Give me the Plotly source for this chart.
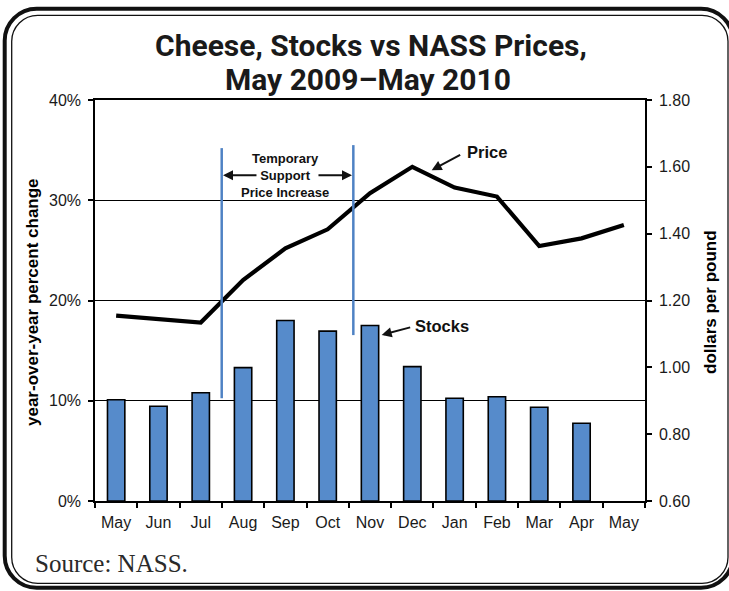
import plotly.graph_objects as go

# ---------------- data ----------------
months = ["May", "Jun", "Jul", "Aug", "Sep", "Oct", "Nov", "Dec", "Jan", "Feb", "Mar", "Apr", "May"]
years = [2009, 2009, 2009, 2009, 2009, 2009, 2009, 2009, 2010, 2010, 2010, 2010, 2010]
stocks_pct = [10.1, 9.45, 10.8, 13.3, 18.0, 16.95, 17.5, 13.4, 10.25, 10.4, 9.35, 7.75, None]
price_usd = [1.155, 1.145, 1.134, 1.261, 1.356, 1.413, 1.521, 1.600, 1.538, 1.511, 1.363, 1.386, 1.426]
left_ticks = [0, 10, 20, 30, 40]
left_ticktext = ["0%", "10%", "20%", "30%", "40%"]
right_ticks = [0.6, 0.8, 1.0, 1.2, 1.4, 1.6, 1.8]

# support-price period markers (x in category index units, y in % of left axis)
support_start = dict(x=2.495, y0=10.25, y1=35.2)
support_end = dict(x=5.606, y0=16.55, y1=35.5)

x_ids = [f"{m} {y}" for m, y in zip(months, years)]

W, H = 729, 591
ML, MR, MT, MB = 95, 84, 100, 90
PW, PH = W - ML - MR, H - MT - MB

FONT = "Liberation Sans, Arial, sans-serif"
TITLE_FONT = "Roboto, Liberation Sans, Arial, sans-serif"
BLUE_BAR = "#568BCB"
BLUE_LINE = "#4F82C4"


def pp(x, y):
    return (x - ML) / PW, (H - MB - y) / PH


def rrect(x0, y0, x1, y1, r):
    k = 0.5523 * r

    def P(x, y):
        a, b = pp(x, y)
        return f"{a:.5f},{b:.5f}"

    d = f"M{P(x0 + r, y0)} L{P(x1 - r, y0)} "
    d += f"C{P(x1 - r + k, y0)} {P(x1, y0 + r - k)} {P(x1, y0 + r)} "
    d += f"L{P(x1, y1 - r)} "
    d += f"C{P(x1, y1 - r + k)} {P(x1 - r + k, y1)} {P(x1 - r, y1)} "
    d += f"L{P(x0 + r, y1)} "
    d += f"C{P(x0 + r - k, y1)} {P(x0, y1 - r + k)} {P(x0, y1 - r)} "
    d += f"L{P(x0, y0 + r)} "
    d += f"C{P(x0, y0 + r - k)} {P(x0 + r - k, y0)} {P(x0 + r, y0)} Z"
    return d


fig = go.Figure()
fig.add_trace(go.Bar(
    x=x_ids, y=stocks_pct, width=0.41,
    marker=dict(color=BLUE_BAR, line=dict(color="black", width=1.6)),
    yaxis="y", name="Stocks", showlegend=False,
))
fig.add_trace(go.Scatter(
    x=x_ids, y=price_usd, mode="lines",
    line=dict(color="black", width=4.2),
    yaxis="y2", name="Price", showlegend=False,
))

shapes = [
    dict(type="path", xref="paper", yref="paper", path=rrect(4.7, 8.7, 733, 587.8, 32),
         line=dict(color="#111", width=4), layer="above"),
    dict(type="path", xref="paper", yref="paper", path=rrect(11.7, 15.3, 728, 583.3, 26),
         line=dict(color="#111", width=1.3), layer="above"),
]
for s in (support_start, support_end):
    shapes.append(dict(type="line", xref="x", yref="y", x0=s["x"], x1=s["x"], y0=s["y0"], y1=s["y1"],
                       line=dict(color=BLUE_LINE, width=2.5), layer="above"))

annos = [
    dict(text="<b>Cheese, Stocks vs NASS Prices,</b>", xref="paper", yref="paper",
         x=pp(371, 0)[0], y=pp(0, 46)[1], showarrow=False, xanchor="center", yanchor="middle",
         font=dict(family=TITLE_FONT, size=30, color="#1a1a1a")),
    dict(text="<b>May 2009–May 2010</b>", xref="paper", yref="paper",
         x=pp(368, 0)[0], y=pp(0, 79)[1], showarrow=False, xanchor="center", yanchor="middle",
         font=dict(family=TITLE_FONT, size=30, color="#1a1a1a")),
    dict(text="<b>year-over-year percent change</b>", xref="paper", yref="paper",
         x=pp(32, 0)[0], y=pp(0, 302)[1], textangle=-90, showarrow=False,
         xanchor="center", yanchor="middle", font=dict(family=FONT, size=17, color="black")),
    dict(text="<b>dollars per pound</b>", xref="paper", yref="paper",
         x=pp(710, 0)[0], y=pp(0, 302)[1], textangle=-90, showarrow=False,
         xanchor="center", yanchor="middle", font=dict(family=FONT, size=17, color="black")),
    dict(text="Source: NASS.", xref="paper", yref="paper",
         x=pp(33, 0)[0], y=pp(0, 563)[1], showarrow=False, xanchor="left", yanchor="middle",
         font=dict(family="Liberation Serif, Times New Roman, serif", size=25, color="#2a2a2a")),
    # Temporary support price text
    dict(text="<b>Temporary<br>Support<br>Price Increase</b>", xref="x", yref="y",
         x=3.99, y=32.5, showarrow=False, xanchor="center", yanchor="middle",
         font=dict(family=FONT, size=13, color="#111")),
    dict(text="", xref="x", yref="y", x=2.525, y=32.5, ax=35, ay=0, showarrow=True,
         arrowhead=2, arrowsize=1, arrowwidth=2, arrowcolor="#111"),
    dict(text="", xref="x", yref="y", x=5.574, y=32.5, ax=-35, ay=0, showarrow=True,
         arrowhead=2, arrowsize=1, arrowwidth=2, arrowcolor="#111"),
    # Price label
    dict(text="<b>Price</b>", xref="x", yref="y", x=8.758, y=34.8, showarrow=False,
         xanchor="center", yanchor="middle", font=dict(family=FONT, size=16.5, color="#111")),
    dict(text="", xref="x", yref="y", x=7.458, y=33.0, ax=30, ay=-16, showarrow=True,
         arrowhead=2, arrowsize=1, arrowwidth=2, arrowcolor="#111"),
    # Stocks label
    dict(text="<b>Stocks</b>", xref="x", yref="y", x=7.694, y=17.49, showarrow=False,
         xanchor="center", yanchor="middle", font=dict(family=FONT, size=16.5, color="#111")),
    dict(text="", xref="x", yref="y", x=6.276, y=16.56, ax=30, ay=-8, showarrow=True,
         arrowhead=2, arrowsize=1, arrowwidth=2, arrowcolor="#111"),
]

fig.update_layout(
    width=W, height=H,
    margin=dict(l=ML, r=MR, t=MT, b=MB, pad=0),
    paper_bgcolor="white", plot_bgcolor="white",
    font=dict(family=FONT, size=16, color="#1a1a1a"),
    bargap=0.59,
    xaxis=dict(type="category", categoryorder="array", categoryarray=x_ids,
               tickmode="array", tickvals=x_ids, ticktext=months,
               ticks="outside", tickson="boundaries", ticklen=5, tickwidth=1.5, tickcolor="black",
               ticklabelstandoff=6,
               showline=True, linecolor="black", linewidth=1.5, mirror=True,
               showgrid=False, range=[-0.5, 12.5], fixedrange=True),
    yaxis=dict(range=[0, 40], tickmode="array", tickvals=left_ticks, ticktext=left_ticktext,
               ticks="outside", ticklen=5, tickwidth=1.5, tickcolor="black",
               ticklabelstandoff=4,
               showline=True, linecolor="black", linewidth=1.5,
               showgrid=True, gridcolor="black", gridwidth=1.2, zeroline=False),
    yaxis2=dict(range=[0.6, 1.8], tickmode="array", tickvals=right_ticks, tickformat=".2f",
                overlaying="y", side="right",
                ticks="outside", ticklen=5, tickwidth=1.5, tickcolor="black",
                ticklabelstandoff=4,
                showline=True, linecolor="black", linewidth=1.5,
                showgrid=False, zeroline=False),
    shapes=shapes,
    annotations=annos,
    showlegend=False,
)

fig.write_html(
    "out.html",
    config={"displayModeBar": False},
    post_script="document.body.style.margin='0';document.body.style.padding='0';document.body.style.overflow='hidden';",
)
